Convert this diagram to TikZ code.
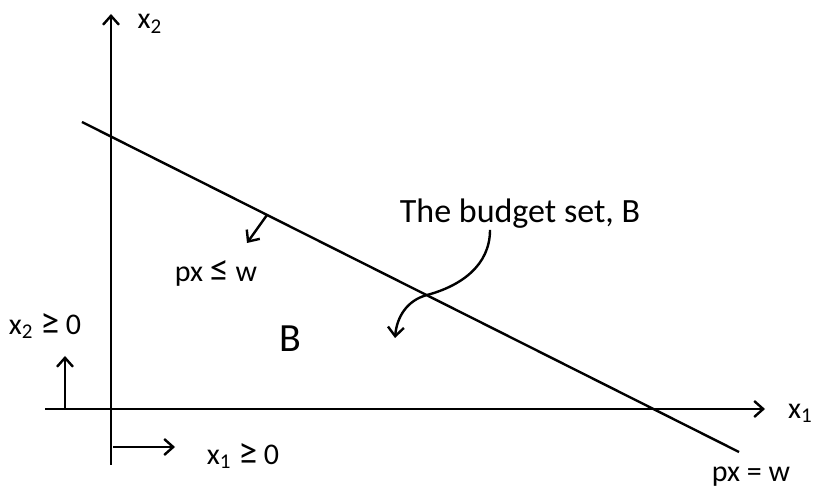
\documentclass[tikz,border=0pt]{standalone}
\usepackage{fontspec}
\setmainfont{Carlito}
\usetikzlibrary{arrows.meta}
\newcommand{\relsym}[1]{{\fontsize{19}{18}\selectfont #1}}
\begin{document}
\begin{tikzpicture}[x=0.5pt,y=0.5pt,line width=1.2pt,
    >={Straight Barb[length=4.5pt,width=8pt]},
    lbl/.style={font=\fontsize{15}{18}\selectfont,inner sep=0pt},
    bigtxt/.style={font=\fontsize{17}{20}\selectfont,inner sep=0pt}]
  \useasboundingbox (0,0) rectangle (813,492);
  % axes
  \coordinate (xleft) at (45,83);
  \coordinate (xend) at (765,83);
  \coordinate (ybot) at (111,27);
  \coordinate (yend) at (111,478);
  \draw[->] (xleft) -- (xend);
  \draw[->] (ybot) -- (yend);
  \node[lbl,anchor=west] (xone) at (787,79) {x\textsubscript{1}};
  \node[lbl] (xtwo) at (150,468) {x\textsubscript{2}};
  % budget line
  \coordinate (bstart) at (82,370);
  \coordinate (bstop) at (739,40);
  \draw (bstart) -- (bstop);
  \node[lbl] (eqlbl) at (751,15) {px = w};
  % direction of px <= w
  \coordinate (nfoot) at (267,277);
  \coordinate (ntip) at (247,249);
  \draw[->] (nfoot) -- (ntip);
  \node[lbl] (ineq) at (216,219) {px \relsym{≤} w};
  % set B
  \node[font=\fontsize{20}{24}\selectfont] (setB) at (290,153) {B};
  \node[bigtxt] (budget) at (520,278) {The budget set, B};
  \coordinate (cross) at (427,197);
  \coordinate (ctip) at (395,154);
  \draw[->] (budget.south -| 490,0) to[out=-90,in=15] (cross) to[out=195,in=85] (ctip);
  % non-negativity
  \coordinate (xtwofoot) at (65,83);
  \coordinate (xtwotip) at (65,136);
  \draw[->] (xtwofoot) -- (xtwotip);
  \node[lbl] (xtwopos) at (45,166) {x\textsubscript{2} \relsym{≥} 0};
  \coordinate (xonefoot) at (113,45);
  \coordinate (xonetip) at (175,45);
  \draw[->] (xonefoot) -- (xonetip);
  \node[lbl] (xonepos) at (243,36) {x\textsubscript{1} \relsym{≥} 0};
\end{tikzpicture}
\end{document}
